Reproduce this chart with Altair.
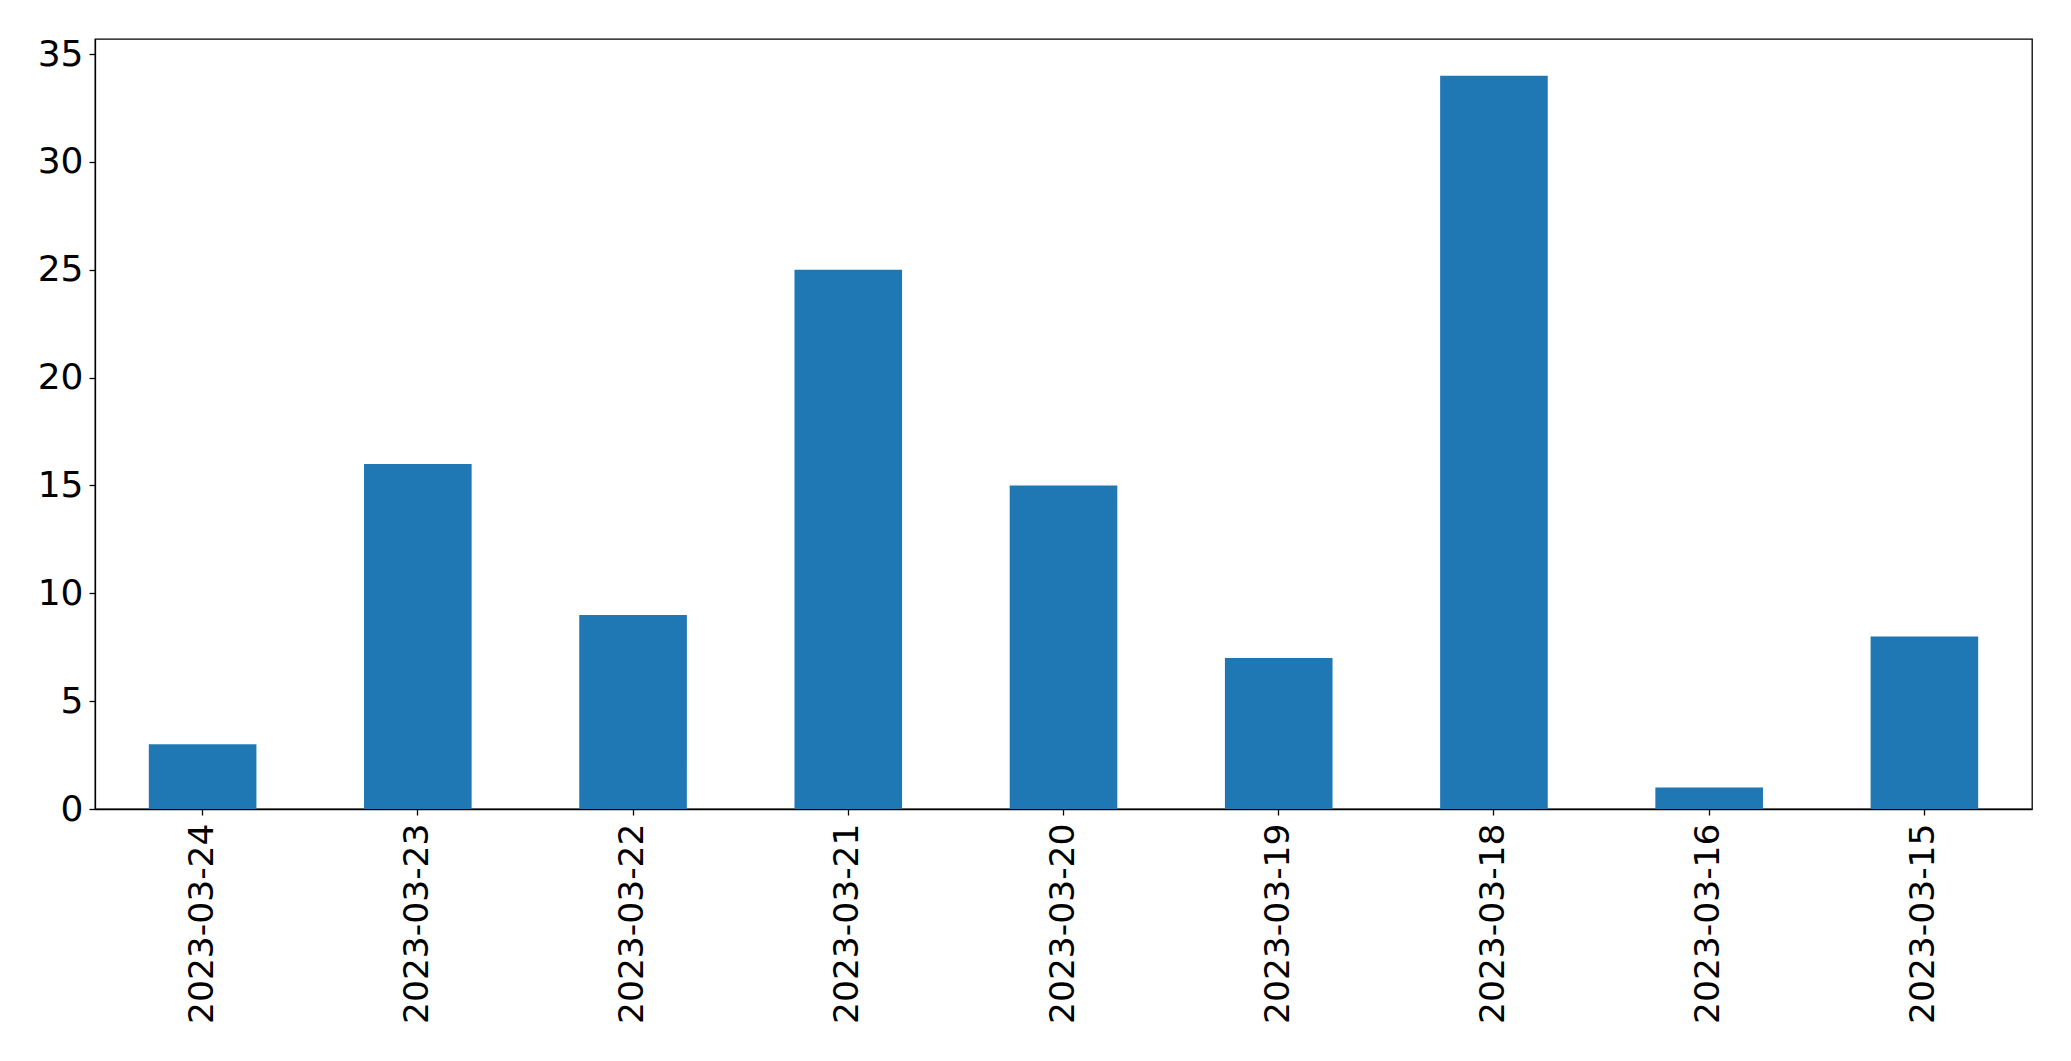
import altair as alt
import pandas as pd

dates = ["2023-03-24", "2023-03-23", "2023-03-22", "2023-03-21", "2023-03-20",
         "2023-03-19", "2023-03-18", "2023-03-16", "2023-03-15"]
counts = [3, 16, 9, 25, 15, 7, 34, 1, 8]
y_ticks = [0, 5, 10, 15, 20, 25, 30, 35]

df = pd.DataFrame({"date": dates, "count": counts})

FONT = "DejaVu Sans"

chart = alt.Chart(df).mark_bar(color="#1f77b4").encode(
    x=alt.X("date:N", sort=dates,
            scale=alt.Scale(paddingInner=0.5, paddingOuter=0.25),
            axis=alt.Axis(title=None, labelAngle=-90, labelFontSize=34.5, labelFont=FONT,
                          labelColor="black", tickColor="black", tickSize=6, tickWidth=1.3,
                          domainColor="black", domainWidth=1.3, labelPadding=8,
                          labelLimit=0, grid=False)),
    y=alt.Y("count:Q", scale=alt.Scale(domain=[0, 35.7], nice=False, zero=True),
            axis=alt.Axis(title=None, values=y_ticks, labelFontSize=36, labelFont=FONT,
                          labelColor="black", tickColor="black", tickSize=6, tickWidth=1.3,
                          domainColor="black", domainWidth=1.3, labelPadding=6,
                          grid=False)),
).properties(
    width=1937, height=770,
    autosize=alt.AutoSizeParams(type="none"),
    padding={"left": 87, "top": 31, "right": 31, "bottom": 244},
    background="white",
).configure_view(stroke="black", strokeWidth=1.3)

chart.save("out.html", embed_options={"renderer": "svg", "actions": False})
